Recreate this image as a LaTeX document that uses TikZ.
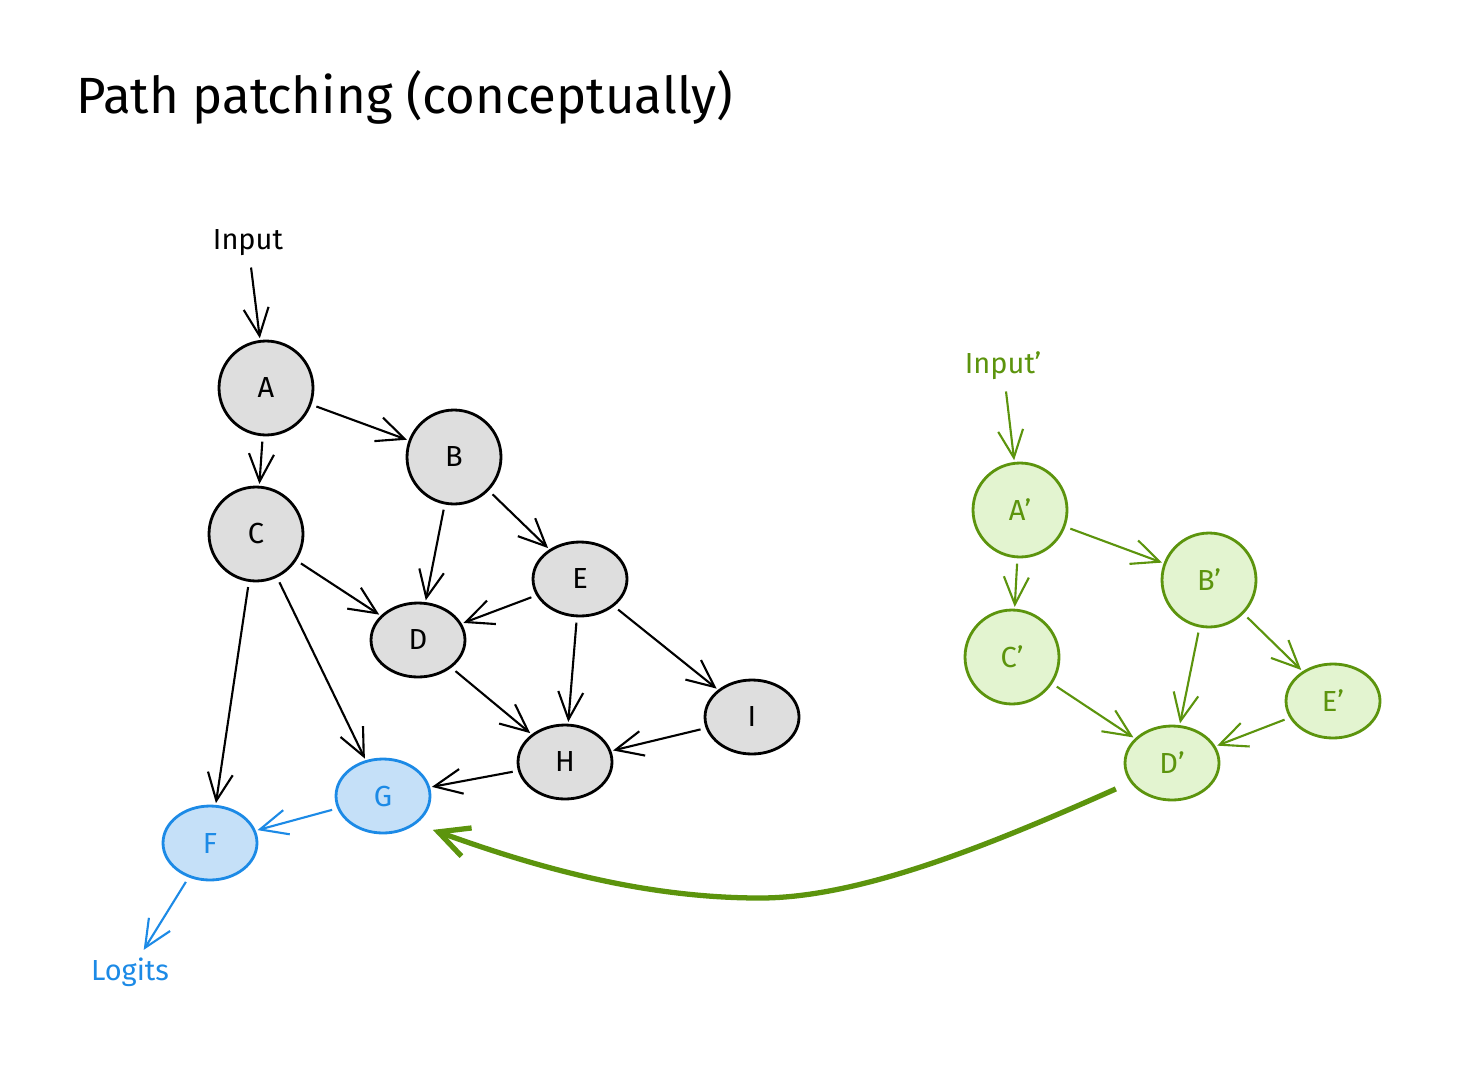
\documentclass[tikz,border=0pt]{standalone}
\usepackage{fontspec}
\setmainfont{Fira Sans}
\usepackage{xcolor}
\usepackage{tikz}
\usetikzlibrary{shapes.geometric,arrows.meta}
\definecolor{unitgrey}{RGB}{222,222,222}
\definecolor{patchblue}{RGB}{28,138,230}
\definecolor{patchfill}{RGB}{197,224,248}
\definecolor{cleangr}{RGB}{92,148,13}
\definecolor{cleanfill}{RGB}{227,244,208}

\begin{document}
\begin{tikzpicture}[x=0.02cm,y=-0.02cm,
    every node/.style={font=\fontsize{16.5}{20}\selectfont},
    round/.style={circle,draw,line width=1.6pt,minimum size=1.88cm,inner sep=0pt},
    oval/.style={ellipse,draw,line width=1.6pt,minimum width=1.88cm,minimum height=1.48cm,inner sep=0pt},
    unit/.style={fill=unitgrey,draw=black},
    patched/.style={fill=patchfill,draw=patchblue,text=patchblue},
    clean/.style={fill=cleanfill,draw=cleangr,text=cleangr},
    link/.style={line width=1.2pt,-{Straight Barb[length=5.5mm,width=5mm]},shorten <=3pt,shorten >=1pt}]
    \useasboundingbox (0,0) rectangle (1462,1068);

    % Title
    \node[anchor=west,font=\fontsize{29}{35}\selectfont] (title) at (70,97) {Path patching (conceptually)};

    % Corrupted run
    \node (in) at (248,243) {Input};
    \node[round,unit] (A) at (266,388) {A};
    \node[round,unit] (B) at (454,457) {B};
    \node[round,unit] (C) at (256,534) {C};
    \node[oval,unit] (D) at (418,640) {D};
    \node[oval,unit] (E) at (580,579) {E};
    \node[oval,unit] (H) at (565,762) {H};
    \node[oval,unit] (I) at (752,717) {I};
    \node[oval,patched] (G) at (383,796) {G};
    \node[oval,patched] (F) at (210,843) {F};
    \node[text=patchblue] (lg) at (130,972) {Logits};

    \draw[link] (in) -- (A);
    \draw[link] (A) -- (B);
    \draw[link] (A) -- (C);
    \draw[link] (C) -- (D);
    \draw[link] (B) -- (D);
    \draw[link] (B) -- (E);
    \draw[link] (E) -- (D);
    \draw[link] (D) -- (H);
    \draw[link] (E) -- (H);
    \draw[link] (E) -- (I);
    \draw[link] (I) -- (H);
    \draw[link] (H) -- (G);
    \draw[link] (C) -- (G);
    \draw[link] (C) -- (F);
    \draw[link,patchblue] (G) -- (F);
    \draw[link,patchblue] (F) -- (lg);

    % Clean run
    \node[text=cleangr] (in2) at (1003,366) {Input'};
    \node[round,clean] (A2) at (1020,510) {A'};
    \node[round,clean] (B2) at (1209,580) {B'};
    \node[round,clean] (C2) at (1012,657) {C'};
    \node[oval,clean] (D2) at (1172,763) {D'};
    \node[oval,clean] (E2) at (1333,701) {E'};

    \draw[link,cleangr] (in2) -- (A2);
    \draw[link,cleangr] (A2) -- (B2);
    \draw[link,cleangr] (A2) -- (C2);
    \draw[link,cleangr] (C2) -- (D2);
    \draw[link,cleangr] (B2) -- (D2);
    \draw[link,cleangr] (B2) -- (E2);
    \draw[link,cleangr] (E2) -- (D2);

    % Patch
    \draw[cleangr,line width=3pt,-{Straight Barb[length=6mm,width=6mm]},shorten <=9pt,shorten >=10pt]
      (D2.205) .. controls (990,845) and (860,898) .. (760,898)
      .. controls (640,898) and (530,865) .. (G.-40);
\end{tikzpicture}
\end{document}
